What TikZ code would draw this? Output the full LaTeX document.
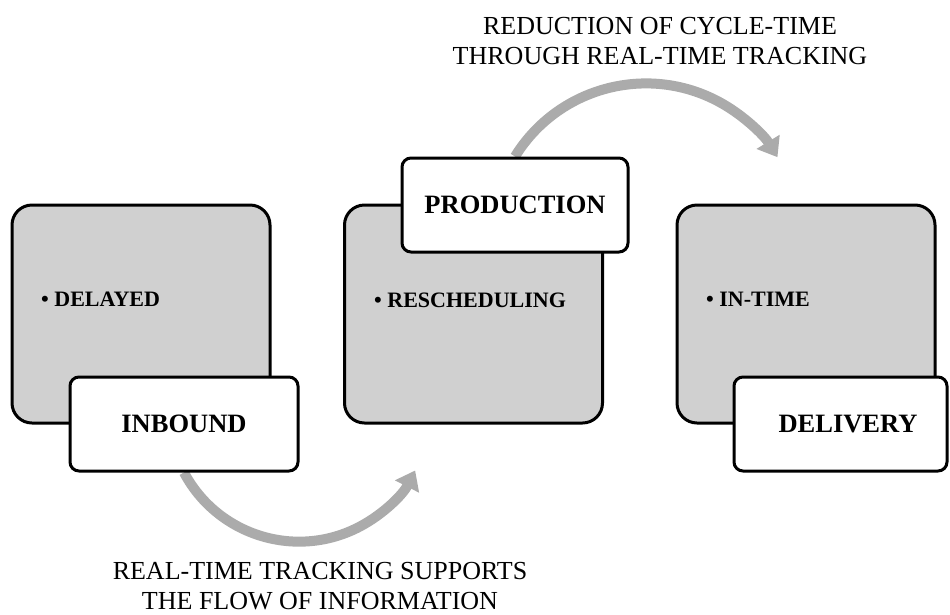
\documentclass[tikz,border=0pt]{standalone}
\usepackage{fontspec}
\setmainfont{Liberation Serif}
\usetikzlibrary{arrows.meta,backgrounds}
\definecolor{boxgray}{RGB}{208,208,208}
\definecolor{arrowgray}{RGB}{171,171,171}
\begin{document}
\begin{tikzpicture}[x=1pt,y=-1pt,
 panel/.style={draw=black, line width=3pt, fill=boxgray, rounded corners=20pt, minimum width=258pt, minimum height=218pt, inner sep=0pt},
 tab/.style={draw=black, line width=3pt, fill=white, rounded corners=9pt, minimum height=94pt, inner sep=0pt, font=\bfseries\fontsize{26.5}{30}\selectfont},
 flow/.style={draw=arrowgray, line width=10pt, -{Triangle[width=26pt,length=18pt]}},
 itemtext/.style={font=\bfseries\fontsize{22}{26}\selectfont, anchor=base west, inner sep=0pt},
 note/.style={font=\fontsize{26}{30}\selectfont, align=center, inner sep=0pt}]
\useasboundingbox (0,0) rectangle (950,614);

% panels
\node[panel] (p1) at (141,314) {};
\node[panel] (p2) at (473.5,314) {};
\node[panel] (p3) at (806,314) {};

% panel items
\node[itemtext] (i1) at (41,306) {\textbullet\ DELAYED};
\node[itemtext] (i2) at (374,307) {\textbullet\ RESCHEDULING};
\node[itemtext] (i3) at (706,306) {\textbullet\ IN-TIME};

% tabs
\node[tab, minimum width=228pt] (t1) at (184,424) {INBOUND};
\node[tab, minimum width=226pt] (t2) at (515,205) {PRODUCTION};
\node[tab, minimum width=213pt] (t3) at (840.5,424) {\hspace*{15pt}DELIVERY};

% flow arrows
\begin{pgfonlayer}{background}
\fill[white] (0,0) rectangle (950,614);
\draw[flow] (t1.south) arc[start angle=152, end angle=27, radius=130.3];
\draw[flow] (t2.north) arc[start angle=211.7, end angle=328.6, radius=154];
\end{pgfonlayer}

% notes
\node[note] (n1) at (660,41.5) {REDUCTION OF CYCLE-TIME\\THROUGH REAL-TIME TRACKING};
\node[note] (n2) at (320,586.5) {REAL-TIME TRACKING SUPPORTS\\THE FLOW OF INFORMATION};
\end{tikzpicture}
\end{document}
